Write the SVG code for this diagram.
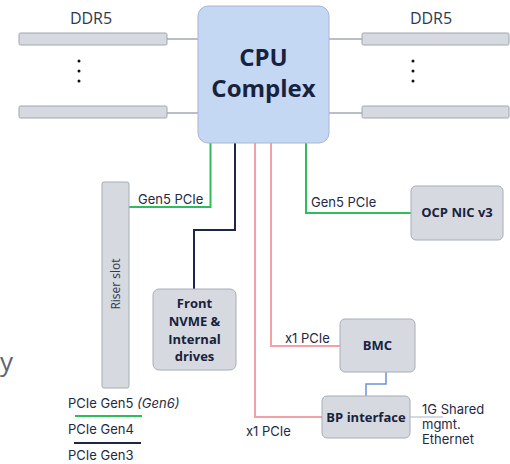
<svg xmlns="http://www.w3.org/2000/svg" width="510" height="464" viewBox="0 0 510 464">
<style>
.bar{fill:#d6d9df;stroke:#9ea6b3;stroke-width:1}
.node{fill:#d6d9df;stroke:#a6adb9;stroke-width:1}
.lbl{font-family:"Inter","Liberation Sans",sans-serif;font-size:13px;fill:#1f2a44}
.nt{font-family:"Open Sans","Noto Sans",sans-serif;font-weight:bold;font-size:13px;fill:#18223d;text-anchor:middle}
.ddr{font-family:"Open Sans","Noto Sans",sans-serif;font-size:16px;fill:#2e3852;text-anchor:middle}
.gr{stroke:#2fbd5c;stroke-width:2;fill:none}
.nv{stroke:#1c2747;stroke-width:2;fill:none}
.pk{stroke:#f3a0a8;stroke-width:2;fill:none}
.thin{stroke:#a3abb8;stroke-width:1.5;fill:none}
</style>
<rect width="510" height="464" fill="#ffffff"/>
<g id="connectors">
<path class="thin" d="M167 39H198M167 113H198M329 39H362M329 113H362"/>
<path class="gr" d="M210.5 143V207H129"/>
<path class="nv" d="M235 143V230H194V289"/>
<path class="pk" d="M255 143V417H322"/>
<path class="pk" d="M271 143V346H340"/>
<path class="gr" d="M306 143V213H411"/>
<path d="M386 372V384H366V396" stroke="#6a93d8" stroke-width="1.5" fill="none"/>
<path d="M410 417H443" stroke="#c8ccd3" stroke-width="1.5" fill="none"/>
</g>
<g id="ddr-left">
<text class="ddr" x="91" y="24">DDR5</text>
<rect class="bar" x="19" y="33" width="148" height="12" rx="1.5"/>
<rect class="bar" x="19" y="106" width="148" height="12" rx="1.5"/>
<circle cx="79" cy="61" r="1.5" fill="#111"/><circle cx="79" cy="71" r="1.5" fill="#111"/><circle cx="79" cy="81" r="1.5" fill="#111"/>
</g>
<g id="ddr-right">
<text class="ddr" x="431" y="24">DDR5</text>
<rect class="bar" x="362" y="33" width="147" height="12" rx="1.5"/>
<rect class="bar" x="362" y="106" width="147" height="12" rx="1.5"/>
<circle cx="413" cy="61" r="1.5" fill="#111"/><circle cx="413" cy="71" r="1.5" fill="#111"/><circle cx="413" cy="81" r="1.5" fill="#111"/>
</g>
<g id="cpu">
<rect x="198" y="6" width="131" height="137" rx="10" fill="#c4d7f3" stroke="#a7b6d2" stroke-width="1"/>
<text class="nt" x="263.5" y="66" style="font-size:24px">CPU</text>
<text class="nt" x="263.5" y="97" style="font-size:24px">Complex</text>
</g>
<g id="riser">
<rect class="node" x="102" y="182" width="27" height="206" rx="2"/>
<text transform="translate(120 284) rotate(-90)" text-anchor="middle" style="font-family:'Open Sans','Noto Sans',sans-serif;font-size:12px;fill:#2e3852">Riser slot</text>
</g>
<g id="front">
<rect class="node" x="153" y="289" width="83" height="81" rx="6"/>
<text class="nt" x="194.5" y="308">Front</text>
<text class="nt" x="194.5" y="326">NVME &amp;</text>
<text class="nt" x="194.5" y="344">Internal</text>
<text class="nt" x="194.5" y="361">drives</text>
</g>
<g id="ocp">
<rect class="node" x="411" y="186" width="92" height="54" rx="5"/>
<text class="nt" x="457" y="217">OCP NIC v3</text>
</g>
<g id="bmc">
<rect class="node" x="340" y="319" width="75" height="53" rx="5"/>
<text class="nt" x="377.5" y="350">BMC</text>
</g>
<g id="bp">
<rect class="node" x="322" y="396" width="88" height="42" rx="5"/>
<text class="nt" x="366" y="422">BP interface</text>
</g>
<g id="labels">
<text class="lbl" x="138" y="204">Gen5 PCIe</text>
<text class="lbl" x="311" y="207">Gen5 PCIe</text>
<text class="lbl" x="285" y="343">x1 PCIe</text>
<text class="lbl" x="246" y="436">x1 PCIe</text>
<text class="lbl" x="422" y="414">1G Shared</text>
<text class="lbl" x="422" y="429">mgmt.</text>
<text class="lbl" x="422" y="444">Ethernet</text>
<text x="0" y="371" style="font-family:'Open Sans','Noto Sans',sans-serif;font-size:26px;fill:#5f6570">y</text>
</g>
<g id="legend">
<text class="lbl" x="68" y="408">PCIe Gen5 <tspan font-style="italic">(Gen6)</tspan></text>
<line x1="75" y1="416" x2="142" y2="416" class="gr"/>
<text class="lbl" x="68" y="434">PCIe Gen4</text>
<line x1="74" y1="443" x2="141" y2="443" class="nv"/>
<text class="lbl" x="68" y="460">PCIe Gen3</text>
</g>
</svg>
